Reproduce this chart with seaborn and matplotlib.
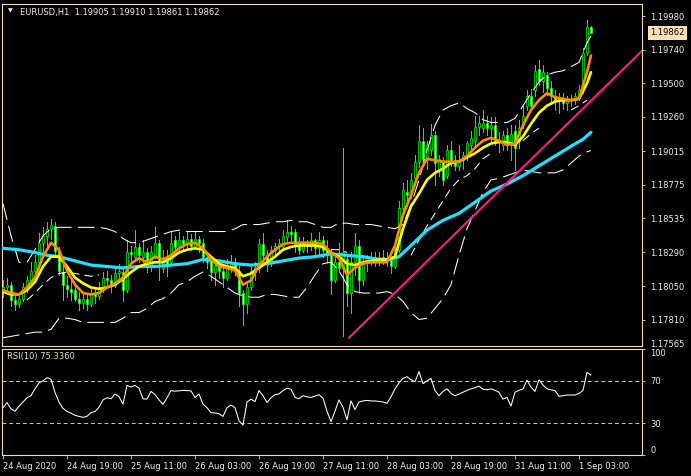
#!/usr/bin/env python3
# -*- coding: utf-8 -*-
"""
EURUSD H1 в стиле MT4: свечи, скользящие, полосы, трендовая линия и RSI(10)
"""
import numpy as np
import matplotlib
matplotlib.use('Agg')
import matplotlib.pyplot as plt
import matplotlib.transforms as mtransforms
import seaborn as sns

# === SETTINGS ===
CONFIG = {
    'output': 'out.png',
    'width_px': 691,
    'height_px': 476,
    'dpi': 100,
}

COLORS = {
    'bg': 'black',
    'frame': '#f0dcb0',
    'text': '#eeeeee',
    'candle': '#00ff00',
    'ma_fast': '#ff8c00',
    'ma_mid': '#ffff00',
    'ma_slow': '#1ee1ff',
    'band': 'white',
    'trend': '#ff1a8c',
    'rsi': 'white',
    'level': '#c8c8c8',
    'tag': '#fde0b0',
    'rsi_label': '#f3dfb8',
}

# === DATA ===
TITLE = 'EURUSD,H1  1.19905 1.19910 1.19861 1.19862'
RSI_LABEL = 'RSI(10) 75.3360'
LAST_PRICE = 1.19862

time_labels = ['24 Aug 2020', '24 Aug 19:00', '25 Aug 11:00', '26 Aug 03:00', '26 Aug 19:00',
               '27 Aug 11:00', '28 Aug 03:00', '28 Aug 19:00', '31 Aug 11:00', '1 Sep 03:00']
price_ticks = [1.19980, 1.19740, 1.19500, 1.19260, 1.19015, 1.18775,
               1.18535, 1.18290, 1.18050, 1.17810]
price_bottom_label = '1.17565'
rsi_ticks = [0, 30, 70, 100]
rsi_levels = [30, 70]

opens = [1.1801, 1.1804, 1.1806, 1.1795, 1.1792, 1.1796, 1.1804, 1.1809, 1.1816, 1.1822,
         1.1836, 1.1841, 1.1846, 1.1848, 1.1830, 1.1815, 1.1806, 1.1803, 1.1802, 1.1796,
         1.1793, 1.1796, 1.1792, 1.1799, 1.1798, 1.1804, 1.1811, 1.1809, 1.1806, 1.1814,
         1.1815, 1.1802, 1.1829, 1.1826, 1.1833, 1.1826, 1.1829, 1.1819, 1.1827, 1.1836,
         1.1818, 1.1826, 1.1822, 1.1838, 1.1834, 1.1838, 1.1835, 1.1839, 1.1834, 1.1839,
         1.1836, 1.1826, 1.1824, 1.1815, 1.1819, 1.1816, 1.1811, 1.1819, 1.1822, 1.1816,
         1.1800, 1.1792, 1.1804, 1.1815, 1.1818, 1.1835, 1.1827, 1.1822, 1.1831, 1.1834,
         1.1834, 1.1840, 1.1844, 1.1844, 1.1835, 1.1831, 1.1835, 1.1834, 1.1838, 1.1832,
         1.1838, 1.1831, 1.1827, 1.1809, 1.1822, 1.1818, 1.1824, 1.1800, 1.1822, 1.1834,
         1.1809, 1.1822, 1.1825, 1.1826, 1.1824, 1.1826, 1.1823, 1.1825, 1.1819, 1.1831,
         1.1861, 1.1872, 1.1872, 1.1882, 1.1894, 1.1909, 1.1896, 1.1902, 1.1913, 1.1888,
         1.1894, 1.1884, 1.1902, 1.1895, 1.1891, 1.1895, 1.1899, 1.1906, 1.1909, 1.1919,
         1.1918, 1.1922, 1.1918, 1.1920, 1.1909, 1.1906, 1.1913, 1.1906, 1.1916, 1.1909,
         1.1920, 1.1934, 1.1941, 1.1945, 1.1960, 1.1952, 1.1956, 1.1947, 1.1941, 1.1938,
         1.1938, 1.1936, 1.1939, 1.1938, 1.1941, 1.1945, 1.1972, 1.19905]
highs = [1.1809, 1.1811, 1.1808, 1.1798, 1.1798, 1.1807, 1.1812, 1.1822, 1.1827, 1.1843,
         1.1847, 1.1851, 1.1853, 1.1851, 1.1833, 1.1822, 1.1812, 1.1809, 1.1806, 1.1801,
         1.1799, 1.1800, 1.1803, 1.1803, 1.1808, 1.1815, 1.1816, 1.1813, 1.1818, 1.1821,
         1.1818, 1.1838, 1.1834, 1.1845, 1.1836, 1.1838, 1.1832, 1.1834, 1.1847, 1.1838,
         1.1831, 1.1831, 1.1844, 1.1841, 1.1844, 1.1841, 1.1844, 1.1842, 1.1844, 1.1841,
         1.1839, 1.1829, 1.1826, 1.1824, 1.1824, 1.1820, 1.1824, 1.1827, 1.1825, 1.1819,
         1.1802, 1.1808, 1.1820, 1.1822, 1.1839, 1.1843, 1.1831, 1.1834, 1.1836, 1.1839,
         1.1845, 1.1852, 1.1848, 1.1846, 1.1840, 1.1840, 1.1838, 1.1843, 1.1839, 1.1844,
         1.1841, 1.1838, 1.1831, 1.1827, 1.1836, 1.1904, 1.1826, 1.1829, 1.1843, 1.1838,
         1.1827, 1.1827, 1.1829, 1.1829, 1.1829, 1.1831, 1.1829, 1.1826, 1.1838, 1.1866,
         1.1879, 1.1881, 1.1886, 1.1899, 1.1920, 1.1918, 1.1909, 1.1921, 1.1916, 1.1899,
         1.1897, 1.1906, 1.1909, 1.1899, 1.1906, 1.1901, 1.1909, 1.1916, 1.1927, 1.1927,
         1.1931, 1.1927, 1.1926, 1.1926, 1.1915, 1.1916, 1.1918, 1.1920, 1.1920, 1.1924,
         1.1934, 1.1945, 1.1946, 1.1963, 1.1967, 1.1963, 1.1958, 1.1952, 1.1945, 1.1943,
         1.1943, 1.1941, 1.1942, 1.1943, 1.1949, 1.1975, 1.1995, 1.19910]
lows = [1.1797, 1.1799, 1.1791, 1.1788, 1.1790, 1.1794, 1.1801, 1.1806, 1.1810, 1.1818,
        1.1826, 1.1834, 1.1839, 1.1827, 1.1813, 1.1795, 1.1797, 1.1795, 1.1794, 1.1788,
        1.1789, 1.1788, 1.1791, 1.1793, 1.1796, 1.1801, 1.1805, 1.1801, 1.1804, 1.1809,
        1.1794, 1.1801, 1.1822, 1.1824, 1.1822, 1.1822, 1.1815, 1.1816, 1.1825, 1.1809,
        1.1815, 1.1812, 1.1820, 1.1829, 1.1831, 1.1831, 1.1833, 1.1831, 1.1832, 1.1829,
        1.1822, 1.1818, 1.1809, 1.1806, 1.1811, 1.1804, 1.1809, 1.1815, 1.1813, 1.1791,
        1.1777, 1.1786, 1.1802, 1.1809, 1.1815, 1.1824, 1.1816, 1.1819, 1.1826, 1.1829,
        1.1831, 1.1836, 1.1838, 1.1829, 1.1828, 1.1829, 1.1829, 1.1831, 1.1827, 1.1827,
        1.1826, 1.1822, 1.1799, 1.1808, 1.1815, 1.1769, 1.1791, 1.1786, 1.1813, 1.1800,
        1.1806, 1.1816, 1.1820, 1.1819, 1.1820, 1.1821, 1.1819, 1.1814, 1.1818, 1.1829,
        1.1858, 1.1862, 1.1868, 1.1879, 1.1890, 1.1891, 1.1889, 1.1899, 1.1877, 1.1884,
        1.1877, 1.1882, 1.1891, 1.1888, 1.1888, 1.1889, 1.1895, 1.1902, 1.1906, 1.1913,
        1.1915, 1.1913, 1.1909, 1.1906, 1.1901, 1.1902, 1.1902, 1.1895, 1.1888, 1.1904,
        1.1918, 1.1931, 1.1932, 1.1941, 1.1949, 1.1944, 1.1942, 1.1935, 1.1931, 1.1929,
        1.1932, 1.1931, 1.1934, 1.1935, 1.1938, 1.1943, 1.1970, 1.19861]
closes = [1.1804, 1.1806, 1.1795, 1.1792, 1.1796, 1.1804, 1.1809, 1.1816, 1.1822, 1.1836,
          1.1841, 1.1846, 1.1849, 1.1830, 1.1816, 1.1806, 1.1803, 1.1801, 1.1796, 1.1793,
          1.1796, 1.1792, 1.1799, 1.1798, 1.1804, 1.1811, 1.1809, 1.1806, 1.1814, 1.1816,
          1.1802, 1.1829, 1.1828, 1.1833, 1.1827, 1.1829, 1.1819, 1.1829, 1.1836, 1.1822,
          1.1826, 1.1819, 1.1836, 1.1833, 1.1838, 1.1835, 1.1839, 1.1834, 1.1839, 1.1836,
          1.1826, 1.1822, 1.1815, 1.1819, 1.1816, 1.1811, 1.1819, 1.1822, 1.1818, 1.1800,
          1.1792, 1.1804, 1.1816, 1.1818, 1.1835, 1.1827, 1.1821, 1.1831, 1.1834, 1.1836,
          1.1841, 1.1844, 1.1842, 1.1835, 1.1831, 1.1835, 1.1834, 1.1838, 1.1832, 1.1838,
          1.1831, 1.1827, 1.1809, 1.1822, 1.1818, 1.1829, 1.1800, 1.1822, 1.1834, 1.1809,
          1.1822, 1.1825, 1.1826, 1.1824, 1.1826, 1.1823, 1.1825, 1.1819, 1.1831, 1.1861,
          1.1874, 1.1870, 1.1881, 1.1894, 1.1909, 1.1896, 1.1906, 1.1913, 1.1893, 1.1896,
          1.1881, 1.1902, 1.1895, 1.1891, 1.1895, 1.1899, 1.1907, 1.1911, 1.1919, 1.1922,
          1.1922, 1.1918, 1.1920, 1.1909, 1.1908, 1.1913, 1.1909, 1.1914, 1.1904, 1.1918,
          1.1927, 1.1941, 1.1934, 1.1959, 1.1952, 1.1958, 1.1947, 1.1941, 1.1938, 1.1939,
          1.1936, 1.1939, 1.1938, 1.1941, 1.1945, 1.1972, 1.1990, 1.19862]

# bar positions of the sampled indicator lines (every second bar + the last one)
line_bars = list(range(0, 148, 2)) + [147]
ma_fast = [1.1802, 1.1800, 1.1799, 1.1804, 1.1811, 1.1826, 1.1836, 1.1831, 1.1816, 1.1806,
           1.1800, 1.1799, 1.1800, 1.1804, 1.1807, 1.1811, 1.1821, 1.1825, 1.1822, 1.1826,
           1.1824, 1.1827, 1.1832, 1.1835, 1.1836, 1.1832, 1.1824, 1.1819, 1.1818, 1.1816,
           1.1806, 1.1809, 1.1820, 1.1826, 1.1831, 1.1835, 1.1836, 1.1836, 1.1836, 1.1836,
           1.1835, 1.1829, 1.1825, 1.1813, 1.1818, 1.1821, 1.1822, 1.1822, 1.1822, 1.1834,
           1.1856, 1.1870, 1.1886, 1.1896, 1.1895, 1.1894, 1.1894, 1.1894, 1.1898, 1.1904,
           1.1909, 1.1911, 1.1909, 1.1906, 1.1907, 1.1920, 1.1931, 1.1938, 1.1943, 1.1940,
           1.1939, 1.1938, 1.1939, 1.1958, 1.1970]
ma_mid = [1.1801, 1.1799, 1.1799, 1.1802, 1.1808, 1.1819, 1.1826, 1.1826, 1.1819, 1.1811,
          1.1807, 1.1804, 1.1803, 1.1804, 1.1806, 1.1810, 1.1815, 1.1819, 1.1821, 1.1822,
          1.1822, 1.1825, 1.1829, 1.1831, 1.1832, 1.1831, 1.1826, 1.1821, 1.1819, 1.1818,
          1.1812, 1.1814, 1.1818, 1.1822, 1.1826, 1.1831, 1.1833, 1.1834, 1.1834, 1.1834,
          1.1833, 1.1829, 1.1826, 1.1821, 1.1820, 1.1822, 1.1823, 1.1824, 1.1824, 1.1826,
          1.1846, 1.1862, 1.1871, 1.1881, 1.1886, 1.1889, 1.1893, 1.1894, 1.1897, 1.1900,
          1.1904, 1.1907, 1.1908, 1.1908, 1.1906, 1.1912, 1.1921, 1.1929, 1.1934, 1.1937,
          1.1938, 1.1938, 1.1939, 1.1950, 1.1958]
band_upper = [1.1864, 1.1841, 1.1822, 1.1822, 1.1831, 1.1841, 1.1846, 1.1847, 1.1847, 1.1847,
              1.1847, 1.1847, 1.1847, 1.1846, 1.1844, 1.1839, 1.1836, 1.1836, 1.1838, 1.1840,
              1.1842, 1.1844, 1.1845, 1.1844, 1.1844, 1.1844, 1.1844, 1.1844, 1.1844, 1.1846,
              1.1849, 1.1849, 1.1849, 1.1850, 1.1851, 1.1851, 1.1852, 1.1851, 1.1851, 1.1849,
              1.1847, 1.1847, 1.1850, 1.1850, 1.1849, 1.1849, 1.1849, 1.1848, 1.1847, 1.1846,
              1.1849, 1.1863, 1.1881, 1.1902, 1.1920, 1.1931, 1.1934, 1.1936, 1.1932, 1.1929,
              1.1924, 1.1922, 1.1922, 1.1922, 1.1925, 1.1934, 1.1943, 1.1951, 1.1956, 1.1958,
              1.1959, 1.1962, 1.1965, 1.1979, 1.1984]
band_lower = [1.1768, 1.1769, 1.1770, 1.1771, 1.1772, 1.1772, 1.1774, 1.1782, 1.1782, 1.1781,
              1.1779, 1.1779, 1.1779, 1.1779, 1.1779, 1.1782, 1.1786, 1.1786, 1.1789, 1.1794,
              1.1796, 1.1800, 1.1806, 1.1808, 1.1812, 1.1815, 1.1812, 1.1808, 1.1804, 1.1800,
              1.1798, 1.1797, 1.1797, 1.1799, 1.1799, 1.1798, 1.1797, 1.1797, 1.1804, 1.1813,
              1.1821, 1.1822, 1.1816, 1.1806, 1.1801, 1.1800, 1.1800, 1.1800, 1.1801, 1.1799,
              1.1794, 1.1786, 1.1781, 1.1782, 1.1789, 1.1796, 1.1806, 1.1827, 1.1846, 1.1859,
              1.1872, 1.1881, 1.1882, 1.1884, 1.1886, 1.1888, 1.1887, 1.1886, 1.1886, 1.1886,
              1.1888, 1.1893, 1.1898, 1.1901, 1.1902]
nan = np.nan
band_inner = [nan, nan, nan, 1.1795, 1.1800, 1.1806, 1.1811, 1.1814, 1.1815, 1.1814,
              1.1813, 1.1812, 1.1813, nan, nan, nan, nan, nan, nan, nan,
              nan, nan, nan, nan, nan, nan, nan, nan, nan, nan,
              nan, nan, nan, nan, nan, nan, nan, nan, nan, nan,
              nan, 1.1831, 1.1831, 1.1829, nan, nan, nan, nan, nan, nan,
              nan, 1.1827, 1.1838, 1.1848, 1.1857, 1.1866, 1.1875, 1.1881, 1.1884, 1.1889,
              1.1896, 1.1900, nan, nan, nan, 1.1909, 1.1914, 1.1918, nan, nan,
              nan, 1.1931, 1.1934, 1.1938, nan]

slow_bars = [0, 4, 8, 11, 14, 18, 22, 26, 30, 34, 38, 42, 46, 50, 54, 58, 62, 66, 70, 74,
             78, 82, 86, 90, 94, 97, 99, 102, 106, 110, 114, 118, 122, 126, 130, 134, 138,
             142, 145, 147]
ma_slow = [1.1832, 1.1831, 1.1829, 1.1827, 1.1826, 1.1823, 1.1820, 1.1819, 1.1818, 1.1819,
           1.1819, 1.1820, 1.1821, 1.1824, 1.1823, 1.1821, 1.1820, 1.1821, 1.1823, 1.1825,
           1.1826, 1.1828, 1.1827, 1.1826, 1.1824, 1.1824, 1.1826, 1.1834, 1.1845, 1.1852,
           1.1857, 1.1865, 1.1873, 1.1878, 1.1884, 1.1891, 1.1898, 1.1905, 1.1910, 1.1915]

trend_bars = [86.5, 160]
trend_prices = [1.1768, 1.1974]

rsi_bars = list(range(148))
rsi_vals = [44.6, 49.5, 43.5, 41.3, 46.0, 50.0, 54.0, 56.0, 62.4, 68.0,
            70.0, 72.9, 71.5, 59.0, 50.0, 44.0, 41.0, 39.5, 37.4, 36.5,
            35.5, 36.5, 40.0, 41.0, 45.0, 52.0, 54.0, 53.0, 57.6, 55.0,
            48.0, 65.7, 64.1, 65.7, 63.0, 53.0, 52.7, 60.0, 57.0, 52.0,
            47.8, 54.0, 60.8, 60.2, 60.5, 61.0, 60.8, 60.5, 54.3, 57.6,
            48.0, 44.6, 40.0, 39.7, 39.0, 36.4, 44.6, 47.2, 44.6, 32.2,
            28.3, 50.0, 52.7, 50.4, 60.8, 56.0, 49.5, 54.0, 56.9, 57.6,
            60.8, 63.1, 62.0, 54.3, 53.0, 55.9, 54.9, 54.3, 55.5, 56.9,
            53.5, 41.3, 31.5, 41.3, 52.0, 45.0, 33.2, 51.0, 42.9, 50.0,
            51.0, 51.5, 51.0, 51.0, 50.5, 50.0, 48.8, 55.0, 62.4, 68.0,
            72.2, 73.8, 71.0, 69.0, 78.7, 67.3, 70.0, 72.2, 60.8, 55.9,
            60.0, 62.4, 58.0, 55.9, 57.5, 59.2, 61.0, 62.4, 63.5, 65.0,
            62.0, 61.5, 62.4, 61.0, 59.2, 52.7, 54.3, 46.2, 59.2, 61.0,
            62.4, 70.6, 64.0, 60.0, 71.0, 66.0, 62.4, 61.5, 60.8, 55.3,
            56.0, 56.6, 56.6, 56.6, 58.0, 61.0, 78.0, 75.3]

# видимое окно в барах и ценах
X_RANGE = (-0.25, 159.75)
PRICE_RANGE = (1.17621, 1.20068)


def px(x, y, w, h):
    """Прямоугольник в пикселях -> доли фигуры"""
    W, H = CONFIG['width_px'], CONFIG['height_px']
    return [x / W, 1 - (y + h) / H, w / W, h / H]


def style_axes(ax):
    ax.set_facecolor(COLORS['bg'])
    ax.grid(False)
    for sp in ax.spines.values():
        sp.set_color(COLORS['frame'])
        sp.set_linewidth(0.8)
    ax.set_xlabel('')
    ax.set_ylabel('')


def draw_candles(ax):
    x = np.arange(len(closes))
    o, h, l, c = (np.asarray(v) for v in (opens, highs, lows, closes))
    # тени без сглаживания, как в терминале: линии в 1 пиксель
    ax.vlines(x, l, h, color=COLORS['candle'], lw=0.5, antialiased=False, zorder=2)
    up = c >= o
    dn = ~up
    ax.bar(x[up], np.maximum(c[up] - o[up], 0.00002), bottom=o[up], width=0.6,
           color='black', edgecolor=COLORS['candle'], linewidth=0.5, zorder=3)
    ax.bar(x[dn], o[dn] - c[dn], bottom=c[dn], width=0.6,
           color='white', edgecolor=COLORS['candle'], linewidth=0.5, zorder=3)


def main():
    sns.set_theme(style='dark', rc={'axes.facecolor': 'black', 'figure.facecolor': 'black'})
    plt.rcParams['font.family'] = ['DejaVu Sans']

    fig = plt.figure(figsize=(CONFIG['width_px'] / CONFIG['dpi'], CONFIG['height_px'] / CONFIG['dpi']),
                     dpi=CONFIG['dpi'], facecolor=COLORS['bg'])
    ax = fig.add_axes(px(2, 4, 640, 342))
    ax2 = fig.add_axes(px(2, 349, 640, 106), sharex=ax)

    # --- основное окно ---
    draw_candles(ax)
    dash = (0, (16, 6))
    sns.lineplot(x=line_bars, y=band_upper, ax=ax, color=COLORS['band'], lw=0.75,
                 linestyle=dash, estimator=None, zorder=4)
    sns.lineplot(x=line_bars, y=band_lower, ax=ax, color=COLORS['band'], lw=0.75,
                 linestyle=dash, estimator=None, zorder=4)
    ax.plot(line_bars, band_inner, color=COLORS['band'], lw=0.75, linestyle=(0, (8, 5)), zorder=4)

    sns.lineplot(x=slow_bars, y=ma_slow, ax=ax, color=COLORS['ma_slow'], lw=2.3,
                 estimator=None, zorder=5)
    sns.lineplot(x=trend_bars, y=trend_prices, ax=ax, color=COLORS['trend'], lw=1.5,
                 estimator=None, zorder=5)
    sns.lineplot(x=line_bars, y=ma_mid, ax=ax, color=COLORS['ma_mid'], lw=1.9,
                 estimator=None, zorder=6)
    sns.lineplot(x=line_bars, y=ma_fast, ax=ax, color=COLORS['ma_fast'], lw=1.9,
                 estimator=None, zorder=7)

    ax.set_xlim(*X_RANGE)
    ax.set_ylim(*PRICE_RANGE)
    style_axes(ax)
    ax.yaxis.tick_right()
    ax.set_yticks(price_ticks)
    ax.set_yticklabels([f'{p:.5f}' for p in price_ticks])
    ax.tick_params(axis='y', which='both', left=False, right=True, direction='out', length=2.5,
                   width=0.6, color=COLORS['frame'], pad=3.5, labelsize=6, labelcolor=COLORS['text'])
    ax.tick_params(axis='x', bottom=False, labelbottom=False)

    # нижняя подпись шкалы цены (MT4 прижимает её к краю окна)
    ax.text(1.0125, 0.004, price_bottom_label, transform=ax.transAxes, ha='left', va='center',
            fontsize=6, color=COLORS['text'])
    # метка текущей цены
    trans = mtransforms.blended_transform_factory(ax.transAxes, ax.transData)
    ax.text(1.0125, LAST_PRICE, f'{LAST_PRICE:.5f}', transform=trans, ha='left', va='center',
            fontsize=6, color='black', clip_on=False,
            bbox=dict(boxstyle='square,pad=0.3', fc=COLORS['tag'], ec='none'))

    # --- окно RSI ---
    sns.lineplot(x=rsi_bars, y=rsi_vals, ax=ax2, color=COLORS['rsi'], lw=0.75,
                 estimator=None, zorder=4)
    for lvl in rsi_levels:
        ax2.axhline(lvl, color=COLORS['level'], lw=0.7, linestyle=(0, (4, 3)), zorder=2)
    ax2.set_xlim(*X_RANGE)
    ax2.set_ylim(0, 100)
    style_axes(ax2)
    ax2.yaxis.tick_right()
    ax2.set_yticks(rsi_ticks)
    ax2.set_yticklabels([str(t) for t in rsi_ticks])
    ax2.tick_params(axis='y', left=False, right=True, direction='out', length=2.5, width=0.6,
                    color=COLORS['frame'], pad=3.5, labelsize=6, labelcolor=COLORS['text'])
    for lab, t in zip(ax2.get_yticklabels(), rsi_ticks):
        if t == 100:
            lab.set_va('top')
        elif t == 0:
            lab.set_va('bottom')

    tick_bars = np.arange(len(time_labels)) * 16
    ax2.set_xticks(tick_bars)
    ax2.set_xticklabels(time_labels, ha='left')
    ax2.tick_params(axis='x', bottom=True, direction='out', length=3, width=0.6,
                    color=COLORS['frame'], pad=2, labelsize=6, labelcolor=COLORS['text'])

    # --- подписи окон ---
    W, H = CONFIG['width_px'], CONFIG['height_px']
    fig.text(8 / W, 1 - 11 / H, '\u25bc', fontsize=4.5, color=COLORS['text'], va='center', ha='left')
    fig.text(20 / W, 1 - 12 / H, TITLE, fontsize=6, color=COLORS['text'], va='center', ha='left')
    fig.text(7 / W, 1 - 357 / H, RSI_LABEL, fontsize=6, color=COLORS['rsi_label'],
             va='center', ha='left')

    fig.savefig(CONFIG['output'], dpi=CONFIG['dpi'], facecolor=COLORS['bg'])
    plt.close(fig)


if __name__ == '__main__':
    main()
